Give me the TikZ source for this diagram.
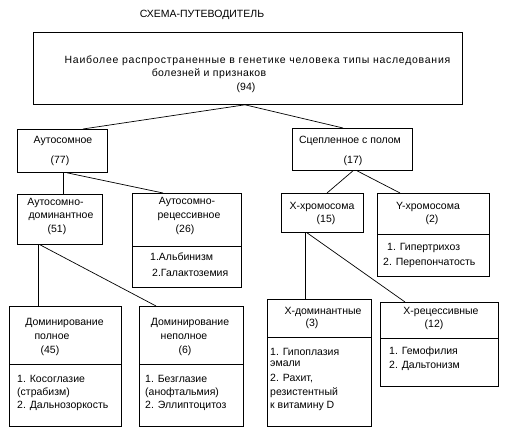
\documentclass[tikz,border=0pt]{standalone}
\usepackage{fontspec}
\setmainfont{Liberation Sans}
\begin{document}
\begin{tikzpicture}[x=1pt,y=-1pt,
  box/.style={draw, line width=0.8pt, inner sep=0pt, anchor=north west},
  txt/.style={inner sep=0pt, font=\fontsize{10.5}{12}\selectfont},
  ltxt/.style={txt, anchor=west},
  link/.style={line width=0.7pt},
  divline/.style={line width=0.8pt}]
\useasboundingbox (0,0) rectangle (509,435);
% title
\node[txt] (title) at (202,15) {СХЕМА-ПУТЕВОДИТЕЛЬ};
% boxes
\node[box, minimum width=429pt, minimum height=72pt] (top) at (33,32) {};
\node[box, minimum width=90pt, minimum height=43pt] (auto) at (17,129) {};
\node[box, minimum width=120pt, minimum height=42pt] (sex) at (292,128) {};
\node[box, minimum width=85pt, minimum height=50pt] (ad) at (17,194) {};
\node[box, minimum width=109pt, minimum height=94pt] (ar) at (132,193) {};
\node[box, minimum width=82pt, minimum height=39pt] (xc) at (281,193) {};
\node[box, minimum width=112pt, minimum height=83pt] (yc) at (377,193) {};
\node[box, minimum width=112pt, minimum height=120pt] (dp) at (9,306) {};
\node[box, minimum width=104pt, minimum height=120pt] (dn) at (139,306) {};
\node[box, minimum width=104pt, minimum height=127pt] (xd) at (267,299) {};
\node[box, minimum width=118pt, minimum height=84pt] (xr) at (380,302) {};
% dividers
\draw[divline] ([yshift=-53pt]ar.north west) -- ([yshift=-53pt]ar.north east);
\draw[divline] ([yshift=-41pt]yc.north west) -- ([yshift=-41pt]yc.north east);
\draw[divline] ([yshift=-58pt]dp.north west) -- ([yshift=-58pt]dp.north east);
\draw[divline] ([yshift=-58pt]dn.north west) -- ([yshift=-58pt]dn.north east);
\draw[divline] ([yshift=-38pt]xd.north west) -- ([yshift=-38pt]xd.north east);
\draw[divline] ([yshift=-36pt]xr.north west) -- ([yshift=-36pt]xr.north east);
% connectors
\draw[link] ([xshift=212pt]top.south west) -- ([xshift=66pt]auto.north west);
\draw[link] ([xshift=212pt]top.south west) -- ([xshift=51pt]sex.north west);
\draw[link] ([xshift=46pt]auto.south west) -- ([xshift=46pt]ad.north west);
\draw[link] ([xshift=50pt]auto.south west) -- ([xshift=31pt]ar.north west);
\draw[link] ([xshift=61pt]sex.south west) -- ([xshift=46pt]xc.north west);
\draw[link] ([xshift=65pt]sex.south west) -- ([xshift=23pt]yc.north west);
\draw[link] ([xshift=21pt]ad.south west) -- ([xshift=29pt]dp.north west);
\draw[link] ([xshift=23pt]ad.south west) -- ([xshift=17pt]dn.north west);
\draw[link] ([xshift=24pt]xc.south west) -- ([xshift=38pt]xd.north west);
\draw[link] ([xshift=26pt]xc.south west) -- ([xshift=25pt]xr.north west);
% texts: top
\node[txt] (top1) at (257.5,61) {\addfontfeature{LetterSpace=7}Наиболее распространенные в генетике человека типы наследования};
\node[txt] (top2) at (209,74) {\addfontfeature{LetterSpace=4}болезней и признаков};
\node[txt] (top3) at (246,88) {(94)};
% auto
\node[txt] (auto1) at (63,141) {Аутосомное};
\node[txt] (auto2) at (60,161) {(77)};
% sex
\node[txt] (sex1) at (350,141) {Сцепленное с полом};
\node[txt] (sex2) at (353,161) {(17)};
% ad
\node[txt] (ad1) at (55.5,203) {Аутосомно-};
\node[txt] (ad2) at (61,217) {доминантное};
\node[txt] (ad3) at (57,230) {(51)};
% ar
\node[txt] (ar1) at (187,202) {Аутосомно-};
\node[txt] (ar2) at (189,217) {рецессивное};
\node[txt] (ar3) at (185,230) {(26)};
\node[ltxt] (ar4) at (150,257) {1.Альбинизм};
\node[ltxt] (ar5) at (152,273) {2.Галактоземия};
% xc
\node[txt] (xc1) at (322,207) {Х-хромосома};
\node[txt] (xc2) at (326,220) {(15)};
% yc
\node[txt] (yc1) at (428,207) {Y-хромосома};
\node[txt] (yc2) at (432,220) {(2)};
\node[ltxt] (yc3) at (387,248) {1. Гипертрихоз};
\node[ltxt] (yc4) at (383,263) {2. Перепончатость};
% dp
\node[txt] (dp1) at (64.5,323) {Доминирование};
\node[txt] (dp2) at (52,337) {полное};
\node[txt] (dp3) at (50,351) {(45)};
\node[ltxt] (dp4) at (17,379) {1. Косоглазие};
\node[ltxt] (dp5) at (17,393) {(страбизм)};
\node[ltxt] (dp6) at (17,406) {2. Дальнозоркость};
% dn
\node[txt] (dn1) at (190,323) {Доминирование};
\node[txt] (dn2) at (184,337) {неполное};
\node[txt] (dn3) at (185,351) {(6)};
\node[ltxt] (dn4) at (145,379) {1. Безглазие};
\node[ltxt] (dn5) at (145,393) {(анофтальмия)};
\node[ltxt] (dn6) at (145,406) {2. Эллиптоцитоз};
% xd
\node[txt] (xd1) at (323,312) {Х-доминантные};
\node[txt] (xd2) at (312,324) {(3)};
\node[ltxt] (xd3) at (270,352) {1. Гипоплазия};
\node[ltxt] (xd4) at (270,364) {эмали};
\node[ltxt] (xd5) at (270,379) {2. Рахит,};
\node[ltxt] (xd6) at (270,393) {резистентный};
\node[ltxt] (xd7) at (270,406) {к витамину D};
% xr
\node[txt] (xr1) at (441,312) {Х-рецессивные};
\node[txt] (xr2) at (434,325) {(12)};
\node[ltxt] (xr3) at (389,352) {1. Гемофилия};
\node[ltxt] (xr4) at (389,366) {2. Дальтонизм};
\end{tikzpicture}
\end{document}
